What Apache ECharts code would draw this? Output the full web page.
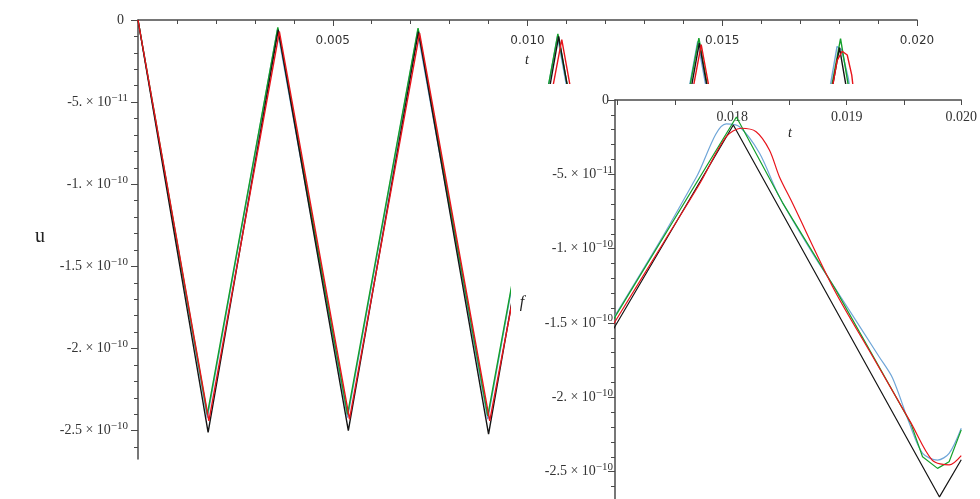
<!DOCTYPE html>
<html>
<head>
<meta charset="utf-8">
<title>u(t)</title>
<script src="https://cdn.jsdelivr.net/npm/echarts@6.0.0/dist/echarts.min.js"></script>
<style>
    html, body { margin: 0; padding: 0; background: #fff; }
    #chart { width: 980px; height: 499px; }
</style>
</head>
<body>
<div id="chart"></div>
<script>
    // t in seconds, u in units of 1e-10
    var U = 1e-10;

    var blackPts = [
        [0, 0], [0.0018, -2.51], [0.0036, -0.06], [0.0054, -2.50], [0.0072, -0.07],
        [0.0090, -2.52], [0.0108, -0.10], [0.0126, -2.53], [0.01441, -0.14],
        [0.01621, -2.53], [0.01801, -0.168], [0.01981, -2.67], [0.0200, -2.42]
    ];
    var greenPts = [
        [0, 0], [0.00178, -2.40], [0.00359, -0.045], [0.00538, -2.40], [0.00719, -0.05],
        [0.00898, -2.41], [0.01078, -0.085], [0.01258, -2.43], [0.01440, -0.11],
        [0.01618, -2.47], [0.018037, -0.114], [0.018439, -0.69], [0.018906, -1.279],
        [0.01956, -2.175], [0.019662, -2.40], [0.019793, -2.478], [0.019894, -2.434],
        [0.0200, -2.219]
    ];
    var bluePts = [
        [0, 0], [0.00178, -2.42], [0.00358, -0.06], [0.00538, -2.42], [0.00718, -0.07],
        [0.00898, -2.43], [0.01077, -0.10], [0.01258, -2.44], [0.01437, -0.13],
        [0.01618, -2.47], [0.01697, -1.46], [0.0174, -0.91], [0.017687, -0.52],
        [0.017948, -0.161], [0.018064, -0.18], [0.018238, -0.357], [0.018412, -0.651],
        [0.0187, -1.029], [0.018909, -1.278], [0.019283, -1.727], [0.0194, -1.87],
        [0.019547, -2.175], [0.019663, -2.377], [0.019793, -2.422], [0.019894, -2.377],
        [0.0200, -2.208]
    ];
    var redPts = [
        [0, 0], [0.00182, -2.44], [0.00363, -0.07], [0.00543, -2.43], [0.00723, -0.08],
        [0.00903, -2.44], [0.01088, -0.12], [0.01265, -2.45], [0.01446, -0.15],
        [0.01622, -2.44], [0.01697, -1.50], [0.0174, -0.96], [0.017715, -0.565],
        [0.017948, -0.247], [0.018078, -0.19], [0.018209, -0.213], [0.018325, -0.336],
        [0.018412, -0.516], [0.018526, -0.693], [0.018892, -1.278], [0.019228, -1.727],
        [0.019563, -2.175], [0.019746, -2.422], [0.019894, -2.455], [0.0200, -2.392]
    ];

    // tick labels
    var yTicks = [0, -0.5, -1, -1.5, -2, -2.5];
    var yTickMant = ['0', '-5.', '-1.', '-1.5', '-2.', '-2.5'];
    var yTickExp = ['', '\u221211', '\u221210', '\u221210', '\u221210', '\u221210'];
    var mainXLabels = [0.005, 0.010, 0.015, 0.020];
    var insetXTicks = [0.017, 0.0175, 0.018, 0.0185, 0.019, 0.0195, 0.020];
    var insetXLabels = [0.018, 0.019, 0.020];

    var serif = 'Liberation Serif';
    var axisColor = '#4a4a4a';
    var textColor = '#333';

    var yMinor = [];
    for (var k = 1; k <= 26; k++) {
        if (k % 5 !== 0) yMinor.push(-k * 0.1 * U);
    }

    function yLabel(value) {
        for (var i = 0; i < yTicks.length; i++) {
            if (Math.abs(value / U - yTicks[i]) < 1e-6) {
                if (!yTickExp[i]) return '{z|0}';
                return '{m|' + yTickMant[i] + ' \u00d7 10}{e|' + yTickExp[i] + '}';
            }
        }
        return '';
    }

    var yRich = {
        m: { fontFamily: serif, fontSize: 14, color: textColor },
        e: { fontFamily: serif, fontSize: 11, color: textColor, padding: [0, 0, 9, 0] },
        z: { fontFamily: serif, fontSize: 14, color: textColor, padding: [0, 4, 0, 0] }
    };

    function yAxes(grid, min, margin, z) {
        var lineStyle = { color: axisColor, width: 1.5 };
        var major = yTicks.map(function (v) { return v * U; });
        return [{
            gridIndex: grid, type: 'value', position: 'left', min: min, max: 0, z: z,
            axisLine: { show: true, onZero: false, lineStyle: lineStyle },
            axisTick: { show: true, length: 7, customValues: major, lineStyle: { color: axisColor } },
            axisLabel: { show: true, margin: margin, customValues: major, formatter: yLabel, rich: yRich },
            splitLine: { show: false }
        }, {
            gridIndex: grid, type: 'value', position: 'left', min: min, max: 0, z: z,
            axisLine: { show: false },
            axisTick: { show: true, length: 4, customValues: yMinor, lineStyle: { color: axisColor } },
            axisLabel: { show: false },
            splitLine: { show: false }
        }];
    }

    function series(pts, color, grid, z, smooth) {
        return {
            type: 'line',
            xAxisIndex: grid,
            yAxisIndex: grid * 2,
            data: pts.map(function (p) { return [p[0], p[1] * U]; }),
            symbol: 'none',
            smooth: smooth,
            silent: true,
            z: z,
            lineStyle: { color: color, width: grid ? 1.2 : 1.4 },
            itemStyle: { color: color }
        };
    }

    function label(text, x, y, size, italic) {
        return {
            type: 'text', x: x, y: y, z: 20,
            style: {
                text: text, fill: '#222', align: 'center', verticalAlign: 'middle',
                font: (italic ? 'italic ' : '') + size + 'px "' + serif + '"'
            }
        };
    }

    // drawing order: red ends on top
    var order = [
        [bluePts, '#6fa6d8', 0.3],
        [greenPts, '#14a02a', 0],
        [blackPts, '#151515', 0],
        [redPts, '#e8141b', 0.3]
    ];

    var allSeries = [];
    order.forEach(function (o) { allSeries.push(series(o[0], o[1], 0, 2, 0)); });
    order.forEach(function (o) { allSeries.push(series(o[0], o[1], 1, 12, o[2])); });

    var chart = echarts.init(document.getElementById('chart'));
    chart.setOption({
        animation: false,
        grid: [
            { left: 138, top: 20, right: 63, bottom: 40 },
            { left: 615, top: 100, right: 17, bottom: 0 }
        ],
        xAxis: [{
            gridIndex: 0, type: 'value', position: 'top', min: 0, max: 0.02, interval: 0.005,
            axisLine: { show: true, onZero: false, lineStyle: { color: axisColor, width: 1.5 } },
            axisTick: { show: true, inside: true, length: 6, lineStyle: { color: axisColor } },
            minorTick: { show: true, splitNumber: 5, length: 4, lineStyle: { color: axisColor } },
            axisLabel: {
                inside: true, margin: 15, color: textColor, fontFamily: 'DejaVu Sans', fontSize: 12,
                formatter: function (v) {
                    return mainXLabels.some(function (l) { return Math.abs(l - v) < 1e-9; }) ? v.toFixed(3) : '';
                }
            },
            splitLine: { show: false }
        }, {
            gridIndex: 1, type: 'value', position: 'top', min: 0.016977, max: 0.02, z: 10,
            axisLine: { show: true, onZero: false, lineStyle: { color: axisColor, width: 1.5 } },
            axisTick: { show: true, inside: true, length: 5, customValues: insetXTicks, lineStyle: { color: axisColor } },
            axisLabel: {
                inside: true, margin: 10, color: textColor, fontFamily: serif, fontSize: 14,
                customValues: insetXLabels,
                formatter: function (v) { return v.toFixed(3); }
            },
            splitLine: { show: false }
        }],
        yAxis: yAxes(0, -2.672e-10, 10, 0).concat(yAxes(1, -2.684e-10, 2, 10)),
        graphic: [
            {
                type: 'rect', z: 5, silent: true,
                shape: { x: 511, y: 84, width: 469, height: 415 },
                style: { fill: '#fff' }
            },
            label('u', 40, 237, 20, false),
            label('t', 527, 60, 14, true),
            label('f', 522, 303, 16, true),
            label('t', 790, 133, 14, true)
        ],
        series: allSeries
    });
</script>
</body>
</html>
